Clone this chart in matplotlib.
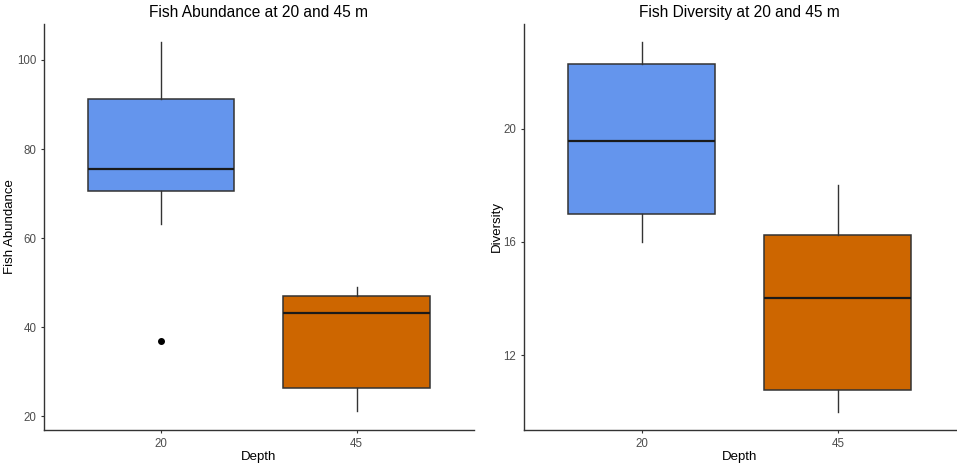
import matplotlib
matplotlib.use("Agg")
import matplotlib.pyplot as plt

plt.rcParams['font.family'] = ['Liberation Sans', 'DejaVu Sans']

# depth categories
depths = ['20', '45']

# abundance box stats
abund_whislo = [63.2, 21.2]
abund_q1 = [70.6, 26.3]
abund_med = [75.6, 43.2]
abund_q3 = [91.2, 47.0]
abund_whishi = [104.1, 49.0]
abund_fliers = [[37.0], []]

# diversity box stats
div_whislo = [16.0, 10.0]
div_q1 = [17.0, 10.75]
div_med = [19.55, 14.0]
div_q3 = [22.27, 16.25]
div_whishi = [23.05, 18.0]
div_fliers = [[], []]

fill_colors = ['#6495ED', '#CD6600']
edge = '#333333'


def make_stats(lo, q1, med, q3, hi, fl):
    return [dict(whislo=lo[i], q1=q1[i], med=med[i], q3=q3[i], whishi=hi[i], fliers=fl[i])
            for i in range(len(lo))]


def draw_panel(ax, stats, title, ylabel, yticks, ylim):
    bp = ax.bxp(stats, positions=[1, 2], widths=0.75, patch_artist=True,
                showcaps=False,
                boxprops=dict(edgecolor=edge, linewidth=1.1),
                whiskerprops=dict(color=edge, linewidth=1.0),
                medianprops=dict(color='#1a1a1a', linewidth=1.6),
                flierprops=dict(marker='o', markerfacecolor='black',
                                markeredgecolor='black', markersize=4))
    for patch, c in zip(bp['boxes'], fill_colors):
        patch.set_facecolor(c)
    ax.set_xlim(0.4, 2.6)
    ax.set_ylim(*ylim)
    ax.set_xticks([1, 2])
    ax.set_xticklabels(depths)
    ax.set_yticks(yticks)
    ax.set_title(title, fontsize=11.2, pad=5)
    ax.set_xlabel('Depth', fontsize=9.5, labelpad=1)
    ax.set_ylabel(ylabel, fontsize=9.5, labelpad=0.5)
    for s in ['top', 'right']:
        ax.spines[s].set_visible(False)
    for s in ['left', 'bottom']:
        ax.spines[s].set_color(edge)
        ax.spines[s].set_linewidth(1.0)
    ax.tick_params(length=2.5, width=0.8, color=edge, labelcolor='#4D4D4D',
                   labelsize=8.3, pad=3)


fig = plt.figure(figsize=(9.57, 4.68), dpi=100)
ax1 = fig.add_axes([0.046, 0.081, 0.449, 0.868])
ax2 = fig.add_axes([0.5475, 0.081, 0.451, 0.868])

draw_panel(ax1, make_stats(abund_whislo, abund_q1, abund_med, abund_q3, abund_whishi, abund_fliers),
           'Fish Abundance at 20 and 45 m', 'Fish Abundance', [20, 40, 60, 80, 100], (16.9, 108.1))
draw_panel(ax2, make_stats(div_whislo, div_q1, div_med, div_q3, div_whishi, div_fliers),
           'Fish Diversity at 20 and 45 m', 'Diversity', [12, 16, 20], (9.35, 23.7))

fig.savefig('out.png', dpi=100)
